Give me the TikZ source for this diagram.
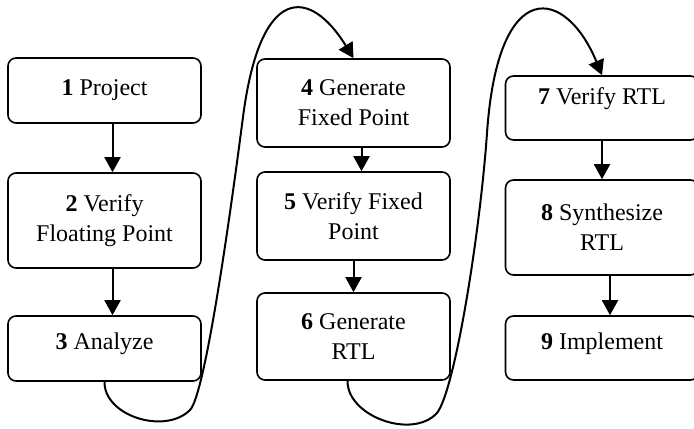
\documentclass[tikz,border=0pt]{standalone}
\usepackage{fontspec}
\setmainfont{Liberation Serif}
\usetikzlibrary{arrows.meta}
\tikzset{
  stepbox/.style={draw, line width=0.8pt, rounded corners=4pt, minimum width=96.5pt,
    align=center, font=\fontsize{12}{15}\selectfont},
  flow/.style={line width=1pt, -{Triangle[width=8pt,length=7.5pt]}}
}
\begin{document}
\begin{tikzpicture}[x=0.5pt,y=0.5pt]
\useasboundingbox (0,0) rectangle (694,428);
% first column
\node[stepbox, minimum height=32.5pt] (b1) at (104.5,337.5) {\textbf{1} Project};
\node[stepbox, minimum height=47.5pt] (b2) at (104.5,207.5) {\textbf{2} Verify\\Floating Point};
\node[stepbox, minimum height=32.5pt, text depth=7pt] (b3) at (104.5,79.5) {\textbf{3} Analyze};
% second column
\node[stepbox, minimum height=44pt] (b4) at (353.5,325) {\textbf{4} Generate\\Fixed Point};
\node[stepbox, minimum height=44pt] (b5) at (353.5,212) {\textbf{5} Verify Fixed\\Point};
\node[stepbox, minimum height=43.5pt] (b6) at (353.5,91.5) {\textbf{6} Generate\\RTL};
% third column
\node[stepbox, minimum height=32pt, text depth=12pt] (b7) at (602,320) {\textbf{7} Verify RTL};
\node[stepbox, minimum height=47.5pt] (b8) at (602,200.5) {\textbf{8} Synthesize\\RTL};
\node[stepbox, minimum height=32pt, text depth=7pt] (b9) at (602,80) {\textbf{9} Implement};
\draw[flow] ([xshift=4pt]b1.south) -- ([xshift=4pt]b2.north);
\draw[flow] ([xshift=4pt]b2.south) -- ([xshift=4pt]b3.north);
\draw[flow] ([xshift=4pt]b4.south) -- ([xshift=4pt]b5.north);
\draw[flow] (b5.south) -- (b6.north);
\draw[flow] (b7.south) -- (b8.north);
\draw[flow] ([xshift=4pt]b8.south) -- ([xshift=4pt]b9.north);
% loops between columns
\draw[flow] (b3.south) .. controls (104,12) and (165,-7) .. (190,18)
  .. controls (205,33) and (230,211) .. (243,311)
  .. controls (260.5,446) and (310.5,439.6) .. (b4.north);
\draw[flow] ([xshift=-3pt]b6.south) .. controls (347,12) and (412,-12) .. (437,15)
  .. controls (455,38) and (480,195) .. (487,295)
  .. controls (498,455) and (566,440) .. (b7.north);
\end{tikzpicture}
\end{document}
